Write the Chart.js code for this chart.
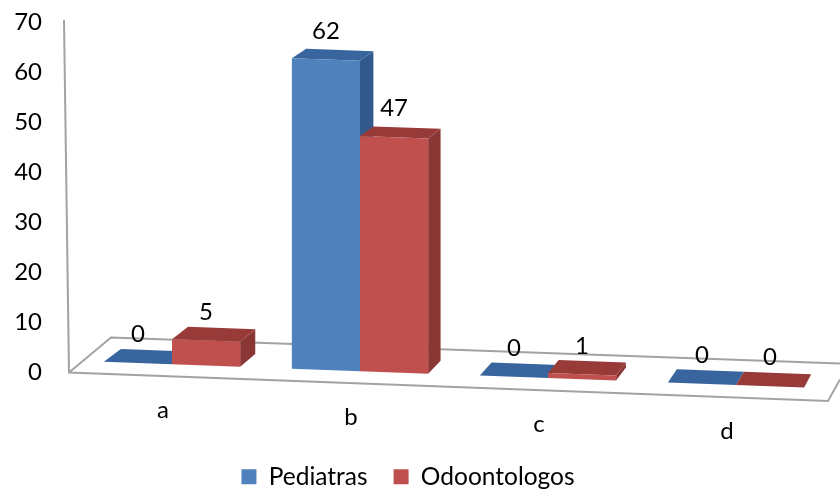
<!doctype html>
<html lang="en">
  <head>
    <meta charset="utf-8">
    <title>Pediatras / Odoontologos</title>
    <style>
      * { margin: 0; padding: 0; }
      body { background: #fff; }
      .chartBox { width: 840px; height: 490px; }
    </style>
  </head>
  <body>
    <div class="chartBox"><canvas id="myChart"></canvas></div>
    <script src="https://cdn.jsdelivr.net/npm/chart.js@4/dist/chart.umd.min.js"></script>
    <script>
    // data
    const categories = ['a', 'b', 'c', 'd'];
    const pediatras = [0, 62, 0, 0];
    const odoontologos = [5, 47, 1, 0];

    const frontColors = ['#4F81BD', '#C0504D'];
    const topColors = ['#38659E', '#973A38'];
    const sideColors = ['#33598C', '#8A3634'];
    const lineColor = '#A3A3A3';
    const fontName = 'Lato, "Open Sans", sans-serif';

    // fake 3D: floor tilt and the depth of each bar
    const tilt = 0.0366;
    const shearY = (x, y) => y + tilt * (x - 108) - 10.5;
    const depthX = (x) => 17 - (x - 108) * 0.0143;
    const depthY = (v) => -(13.5 - 3.5 * Math.min(v, 47) / 47);

    function face(ctx, color, pts) {
      ctx.fillStyle = color;
      ctx.beginPath();
      pts.forEach((p, i) => i ? ctx.lineTo(p[0], p[1]) : ctx.moveTo(p[0], p[1]));
      ctx.closePath();
      ctx.fill();
    }

    function barBox(chart, i, j) {
      const p = chart.getDatasetMeta(i).data[j].getProps(['x', 'y', 'base', 'width'], true);
      return { left: p.x - p.width / 2, right: p.x + p.width / 2, x: p.x, y: p.y, base: p.base };
    }

    const wallsAndDepth = {
      id: 'wallsAndDepth',
      beforeDatasetsDraw(chart) {
        const ctx = chart.ctx;
        const { left, bottom } = chart.chartArea;
        const y0 = bottom;

        // wall line and floor outline
        ctx.save();
        ctx.strokeStyle = lineColor;
        ctx.lineWidth = 2;
        ctx.beginPath();
        ctx.moveTo(left - 14, chart.chartArea.top - 2);
        ctx.lineTo(left - 9, y0);
        ctx.lineTo(left + 750, y0 + 28.5);
        ctx.lineTo(left + 762, y0 + 7);
        ctx.moveTo(left - 9, y0);
        ctx.lineTo(left + 33, y0 - 35);
        ctx.lineTo(left + 762, y0 - 9);
        ctx.stroke();
        ctx.restore();

        // everything until afterDatasetsDraw sits on the tilted floor
        ctx.save();
        ctx.transform(1, tilt, 0, 1, 0, -tilt * 108 - 10.5);
        chart.data.datasets.forEach((ds, i) => {
          ds.data.forEach((v, j) => {
            const b = barBox(chart, i, j);
            const dl = depthX(b.left), dr = depthX(b.right), dy = depthY(v), dz = depthY(0);
            if (v > 0) {
              face(ctx, sideColors[i], [[b.right, b.y], [b.right + dr, b.y + dy], [b.right + dr, b.base + dz], [b.right, b.base]]);
            }
            face(ctx, topColors[i], [[b.left, b.y], [b.left + dl, b.y + dy], [b.right + dr, b.y + dy], [b.right, b.y]]);
          });
        });
      },
      afterDatasetsDraw(chart) {
        const ctx = chart.ctx;
        ctx.restore();

        ctx.save();
        ctx.fillStyle = '#000';
        ctx.font = '24px ' + fontName;
        ctx.textAlign = 'center';
        ctx.textBaseline = 'middle';
        // value labels
        chart.data.datasets.forEach((ds, i) => {
          ds.data.forEach((v, j) => {
            const b = barBox(chart, i, j);
            ctx.fillText(String(v), b.x, shearY(b.x, b.y) - 28.5);
          });
        });
        // category labels follow the front edge of the floor
        const xs = chart.scales.x;
        categories.forEach((c, j) => {
          const x = xs.getPixelForValue(j) - 9;
          ctx.fillText(c, x, shearY(x, chart.chartArea.bottom) + 46.5);
        });
        ctx.restore();
      },
      afterLayout(chart) {
        chart.legend.left -= 7;
        chart.legend.right -= 7;
        chart.legend.top += 9;
        chart.legend.bottom += 9;
      }
    };

    const config = {
      type: 'bar',
      data: {
        labels: categories,
        datasets: [
          { label: 'Pediatras', data: pediatras, backgroundColor: frontColors[0], borderWidth: 0, clip: false },
          { label: 'Odoontologos', data: odoontologos, backgroundColor: frontColors[1], borderWidth: 0, clip: false }
        ]
      },
      options: {
        responsive: true,
        maintainAspectRatio: false,
        animation: false,
        layout: { autoPadding: false, padding: { top: 22, right: 10 } },
        datasets: { bar: { barPercentage: 1, categoryPercentage: 0.725 } },
        scales: {
          x: {
            grid: { display: false, drawTicks: false },
            border: { display: false },
            ticks: { display: false },
            afterFit(scale) { scale.height = 57; }
          },
          y: {
            min: 0,
            max: 70,
            // tickLength only pushes the labels left, no tick lines are drawn
            grid: { display: false, drawTicks: true, tickLength: 36 },
            border: { display: false },
            ticks: { stepSize: 10, padding: 0, color: '#000', font: { family: fontName, size: 24 } },
            afterFit(scale) { scale.width = 78; }
          }
        },
        plugins: {
          tooltip: { enabled: false },
          legend: {
            position: 'bottom',
            labels: { boxWidth: 15, boxHeight: 15, padding: 26, color: '#000', font: { family: fontName, size: 24.5 } }
          }
        }
      },
      plugins: [wallsAndDepth]
    };

    const myChart = new Chart(document.getElementById('myChart'), config);
    </script>
  </body>
</html>
